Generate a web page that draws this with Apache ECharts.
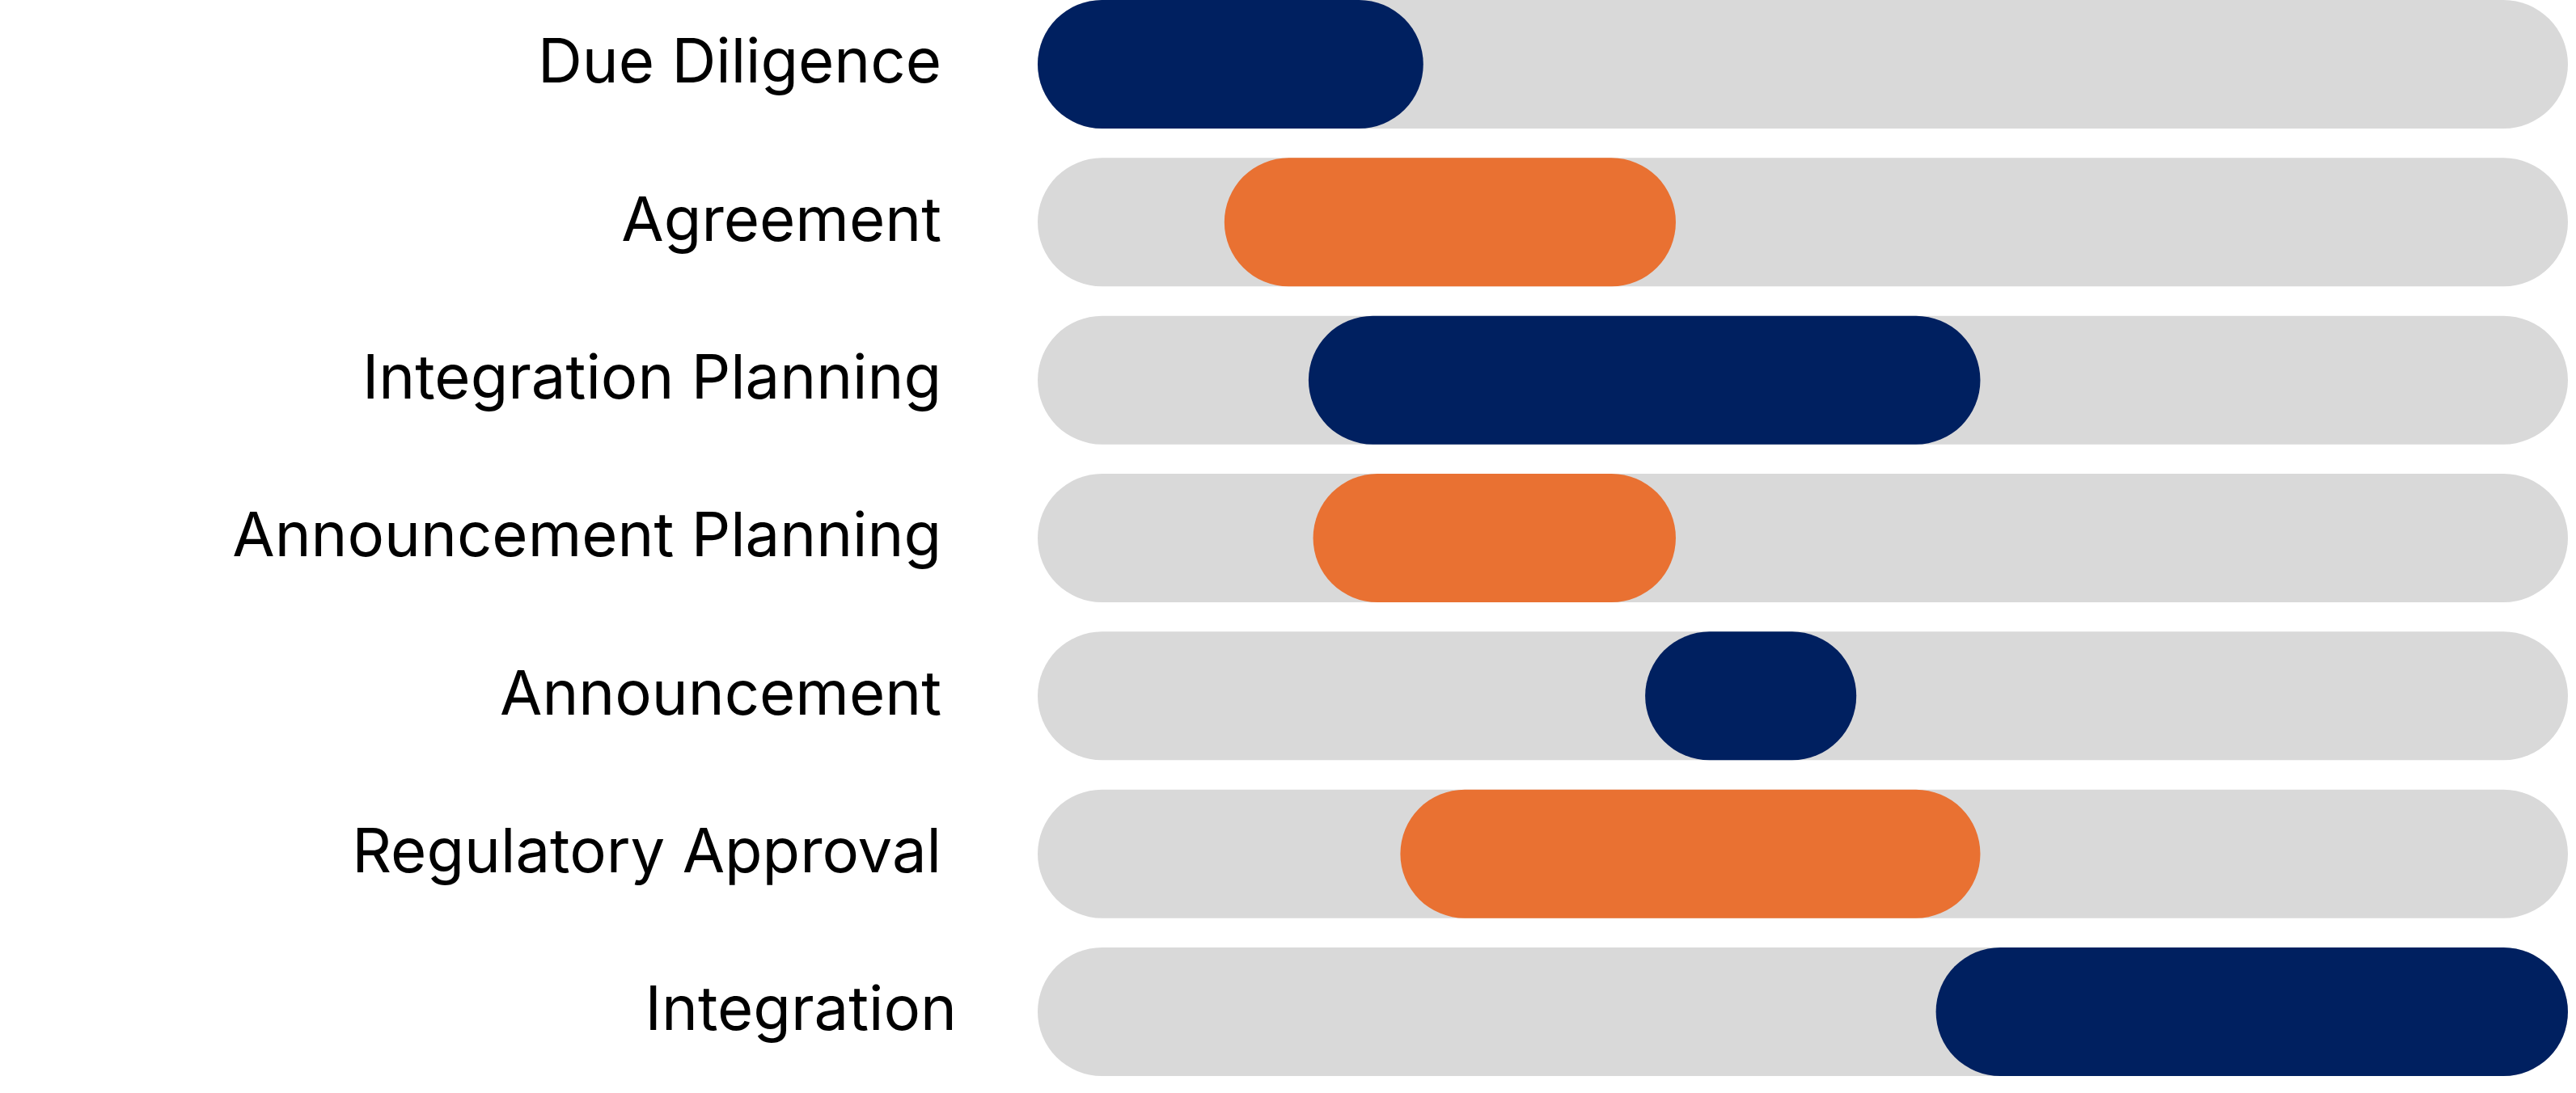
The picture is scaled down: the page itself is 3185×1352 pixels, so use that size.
<!DOCTYPE html>
<html>
<head>
<meta charset="utf-8">
<script src="https://cdn.jsdelivr.net/npm/echarts@6/dist/echarts.min.js"></script>
<style>
html,body{margin:0;padding:0;background:#fff;}
#c{width:3185px;height:1352px;}
</style>
</head>
<body>
<div id="c"></div>
<script>
// Phases (top to bottom)
const categories = ['Due Diligence','Agreement','Integration Planning','Announcement Planning','Announcement','Regulatory Approval','Integration'];
// Timeline position of each phase, in % of the full timeline
const phaseStart = [0, 12.2, 17.7, 18.0, 39.7, 23.7, 58.7];
const phaseEnd   = [25.2, 41.7, 61.6, 41.7, 53.5, 61.6, 100];
const timelineMax = 100;

const NAVY = '#002060', ORANGE = '#E97132', TRACK = '#D9D9D9';
const BAR_H = 159;

const durations = phaseEnd.map((e, i) => +(e - phaseStart[i]).toFixed(2));
const track = categories.map(() => timelineMax);

const catData = categories.map((c) => {
  if (c === 'Integration') return { value: c, textStyle: { padding: [0, 0, 0, 0] } };
  return c;
});

const chart = echarts.init(document.getElementById('c'));
chart.setOption({
  animation: false,
  grid: { left: 1283, right: 10, top: 79.5, bottom: 100.5, containLabel: false, outerBoundsMode: 'none' },
  xAxis: { type: 'value', min: 0, max: timelineMax, show: false, splitLine: { show: false } },
  yAxis: {
    type: 'category', inverse: true, data: catData, boundaryGap: false,
    axisLine: { show: false }, axisTick: { show: false }, splitLine: { show: false },
    axisLabel: {
      margin: 100, color: '#000', fontFamily: 'Inter', fontSize: 76, fontWeight: 'normal',
      align: 'right', verticalAlign: 'middle', padding: [0, 19, 0, 0]
    }
  },
  series: [
    {
      name: 'Timeline', type: 'bar', data: track, barWidth: BAR_H, barGap: '-100%',
      itemStyle: { color: TRACK, borderRadius: BAR_H / 2 }, silent: true, z: 1, clip: false
    },
    {
      name: 'Offset', type: 'bar', stack: 'phase', data: phaseStart, barWidth: BAR_H, barGap: '-100%',
      itemStyle: { color: 'transparent' }, silent: true, z: 2, clip: false
    },
    {
      name: 'Phase', type: 'bar', stack: 'phase', data: durations, barWidth: BAR_H, barGap: '-100%',
      itemStyle: {
        color: p => (p.dataIndex % 2 === 0 ? NAVY : ORANGE),
        borderRadius: BAR_H / 2
      }, z: 3, clip: false
    }
  ]
});
</script>
</body>
</html>
